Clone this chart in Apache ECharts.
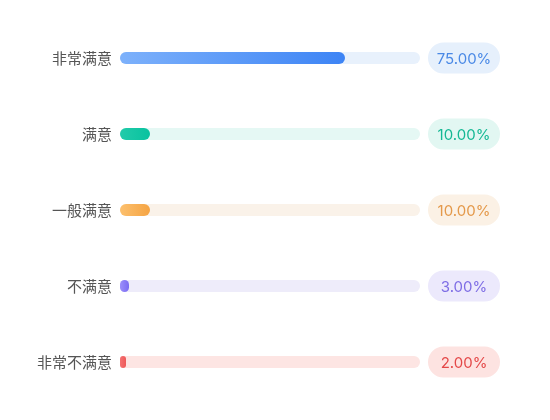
<!DOCTYPE html>
<html>
<head>
<meta charset="utf-8">
<script src="https://cdn.jsdelivr.net/npm/echarts@6/dist/echarts.min.js"></script>
<style>html,body{margin:0;padding:0;background:#fff}#c{width:550px;height:420px}</style>
</head>
<body>
<div id="c"></div>
<script>
const categories = ['非常满意', '满意', '一般满意', '不满意', '非常不满意'];
const values = [75, 10, 10, 3, 2];
const trackMax = [100, 100, 100, 100, 100];
const barStart = ['#7DB1FB', '#22CBAA', '#FCC06E', '#9C8FFA', '#F47272'];
const barEnd = ['#3D84F5', '#08C29F', '#F5A443', '#7A6BF2', '#EE5858'];
const trackColors = ['#E8F1FC', '#E5F8F4', '#FAF2E9', '#EEECFA', '#FDE5E3'];
const labelColors = ['#4A89E6', '#15B894', '#E4994A', '#7E6DE5', '#E44848'];
const pillColors = ['#E6F0FC', '#E2F7F2', '#FBF1E5', '#ECE9FC', '#FDE3E1'];

const chart = echarts.init(document.getElementById('c'));
const font = '"Noto Sans CJK SC", "Noto Sans", sans-serif';
const numFont = 'Inter, "Noto Sans CJK SC", sans-serif';
chart.setOption({
  animation: false,
  grid: { left: 120, right: 130, top: 20, bottom: 20, containLabel: false },
  xAxis: { type: 'value', min: 0, max: 100, show: false },
  yAxis: {
    type: 'category', data: categories, inverse: true,
    axisLine: { show: false }, axisTick: { show: false }, splitLine: { show: false },
    axisLabel: { color: '#555', fontSize: 15, margin: 8, fontFamily: font }
  },
  series: [
    {
      type: 'bar', barWidth: 12, z: 1, silent: true,
      data: trackMax.map((v, i) => ({
        value: v,
        itemStyle: { color: trackColors[i], borderRadius: 6 },
        label: {
          show: true, position: 'right', distance: 8,
          formatter: () => '{p|' + values[i].toFixed(2) + '%}',
          rich: {
            p: {
              color: labelColors[i], backgroundColor: pillColors[i],
              fontSize: 15, fontFamily: numFont, lineHeight: 16,
              width: 54, align: 'center',
              padding: [9, 9, 7, 9], borderRadius: 16
            }
          }
        }
      }))
    },
    {
      type: 'bar', barWidth: 12, barGap: '-100%', z: 2,
      data: values.map((v, i) => ({
        value: v,
        itemStyle: {
          borderRadius: 6,
          color: new echarts.graphic.LinearGradient(0, 0, 1, 0, [
            { offset: 0, color: barStart[i] }, { offset: 1, color: barEnd[i] }
          ])
        }
      }))
    }
  ]
});
</script>
</body>
</html>
